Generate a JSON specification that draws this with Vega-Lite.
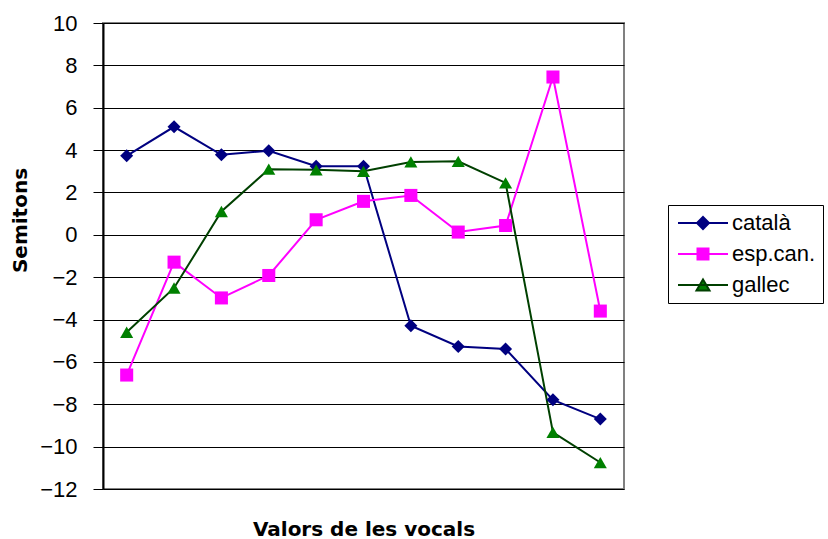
{
  "$schema": "https://vega.github.io/schema/vega-lite/v6.json",
  "width": 521,
  "height": 466,
  "autosize": {"type": "none"},
  "padding": {"left": 103, "top": 23, "right": 204, "bottom": 50},
  "background": "white",
  "config": {
    "font": "Liberation Sans",
    "view": {"stroke": "#808080", "strokeWidth": 2}
  },
  "data": {
    "values": [
      {"i": 1, "serie": "català", "v": 3.73},
      {"i": 2, "serie": "català", "v": 5.1},
      {"i": 3, "serie": "català", "v": 3.78},
      {"i": 4, "serie": "català", "v": 3.97},
      {"i": 5, "serie": "català", "v": 3.24},
      {"i": 6, "serie": "català", "v": 3.24},
      {"i": 7, "serie": "català", "v": -4.29},
      {"i": 8, "serie": "català", "v": -5.27},
      {"i": 9, "serie": "català", "v": -5.39},
      {"i": 10, "serie": "català", "v": -7.79},
      {"i": 11, "serie": "català", "v": -8.7},
      {"i": 1, "serie": "esp.can.", "v": -6.62},
      {"i": 2, "serie": "esp.can.", "v": -1.29},
      {"i": 3, "serie": "esp.can.", "v": -2.98},
      {"i": 4, "serie": "esp.can.", "v": -1.92},
      {"i": 5, "serie": "esp.can.", "v": 0.71},
      {"i": 6, "serie": "esp.can.", "v": 1.58},
      {"i": 7, "serie": "esp.can.", "v": 1.86},
      {"i": 8, "serie": "esp.can.", "v": 0.13},
      {"i": 9, "serie": "esp.can.", "v": 0.44},
      {"i": 10, "serie": "esp.can.", "v": 7.45},
      {"i": 11, "serie": "esp.can.", "v": -3.6},
      {"i": 1, "serie": "gallec", "v": -4.6},
      {"i": 2, "serie": "gallec", "v": -2.51},
      {"i": 3, "serie": "gallec", "v": 1.1},
      {"i": 4, "serie": "gallec", "v": 3.1},
      {"i": 5, "serie": "gallec", "v": 3.07},
      {"i": 6, "serie": "gallec", "v": 3.0},
      {"i": 7, "serie": "gallec", "v": 3.44},
      {"i": 8, "serie": "gallec", "v": 3.47},
      {"i": 9, "serie": "gallec", "v": 2.45},
      {"i": 10, "serie": "gallec", "v": -9.33},
      {"i": 11, "serie": "gallec", "v": -10.75}
    ]
  },
  "encoding": {
    "x": {
      "field": "i",
      "type": "ordinal",
      "scale": {"type": "point", "padding": 0.5},
      "axis": {
        "title": "Valors de les vocals",
        "labels": false,
        "ticks": false,
        "domain": false,
        "titleFont": "DejaVu Sans",
        "titleFontSize": 20,
        "titleFontWeight": "bold",
        "titleColor": "#000",
        "titleBaseline": "middle",
        "titleY": 40
      }
    },
    "y": {
      "field": "v",
      "type": "quantitative",
      "scale": {"domain": [-12, 10], "nice": false, "zero": false},
      "axis": {
        "values": [-12, -10, -8, -6, -4, -2, 0, 2, 4, 6, 8, 10],
        "title": "Semitons",
        "grid": true,
        "gridColor": "#000",
        "gridOpacity": 1,
        "gridWidth": 1,
        "domainColor": "#000",
        "domainWidth": 2,
        "tickColor": "#000",
        "tickSize": 10,
        "tickWidth": 1,
        "labelFontSize": 22,
        "labelColor": "#000",
        "labelPadding": 16,
        "titleFont": "DejaVu Sans",
        "titleFontSize": 20,
        "titleFontWeight": "bold",
        "titleColor": "#000",
        "titleAngle": -90,
        "titleX": -83,
        "titleY": 197,
        "titleAlign": "center",
        "titleBaseline": "middle"
      }
    }
  },
  "layer": [
    {
      "mark": {"type": "line", "strokeWidth": 2},
      "encoding": {
        "stroke": {
          "field": "serie",
          "type": "nominal",
          "scale": {"domain": ["català", "esp.can.", "gallec"], "range": ["#000080", "#FF00FF", "#004000"]},
          "legend": {
            "title": null,
            "orient": "none",
            "legendX": 565,
            "legendY": 182,
            "strokeColor": "#000",
            "fillColor": "white",
            "padding": 7,
            "labelFontSize": 22,
            "labelColor": "#000",
            "labelOffset": 18,
            "symbolOffset": 17,
            "rowPadding": 9,
            "symbolSize": 100,
            "symbolStrokeWidth": 2,
            "encode": {
              "symbols": {
                "update": {
                  "shape": {"signal": "datum.value === 'català' ? 'M-5,0H5M0,-1.2L1.2,0L0,1.2L-1.2,0Z' : datum.value === 'esp.can.' ? 'M-5,0H5M-1.1,-1.1H1.1V1.1H-1.1Z' : 'M-5,0H5M0,-1.1L1.3,1.1H-1.3Z'"},
                  "fill": {"signal": "datum.value === 'català' ? '#000080' : datum.value === 'esp.can.' ? '#FF00FF' : '#008000'"},
                  "stroke": {"signal": "datum.value === 'català' ? '#000080' : datum.value === 'esp.can.' ? '#FF00FF' : '#004000'"},
                  "strokeWidth": {"value": 2},
                  "fillOpacity": {"value": 1},
                  "strokeOpacity": {"value": 1},
                  "opacity": {"value": 1}
                }
              }
            }
          }
        }
      }
    },
    {
      "transform": [{"filter": "datum.serie === 'català'"}],
      "mark": {"type": "point", "shape": "diamond", "filled": true, "opacity": 1, "strokeWidth": 0, "color": "#000080", "size": 170}
    },
    {
      "transform": [{"filter": "datum.serie === 'esp.can.'"}],
      "mark": {"type": "point", "shape": "square", "filled": true, "opacity": 1, "strokeWidth": 0, "color": "#FF00FF", "size": 170}
    },
    {
      "transform": [{"filter": "datum.serie === 'gallec'"}],
      "mark": {"type": "point", "shape": "triangle-up", "filled": true, "opacity": 1, "strokeWidth": 0, "color": "#008000", "size": 170}
    }
  ]
}
